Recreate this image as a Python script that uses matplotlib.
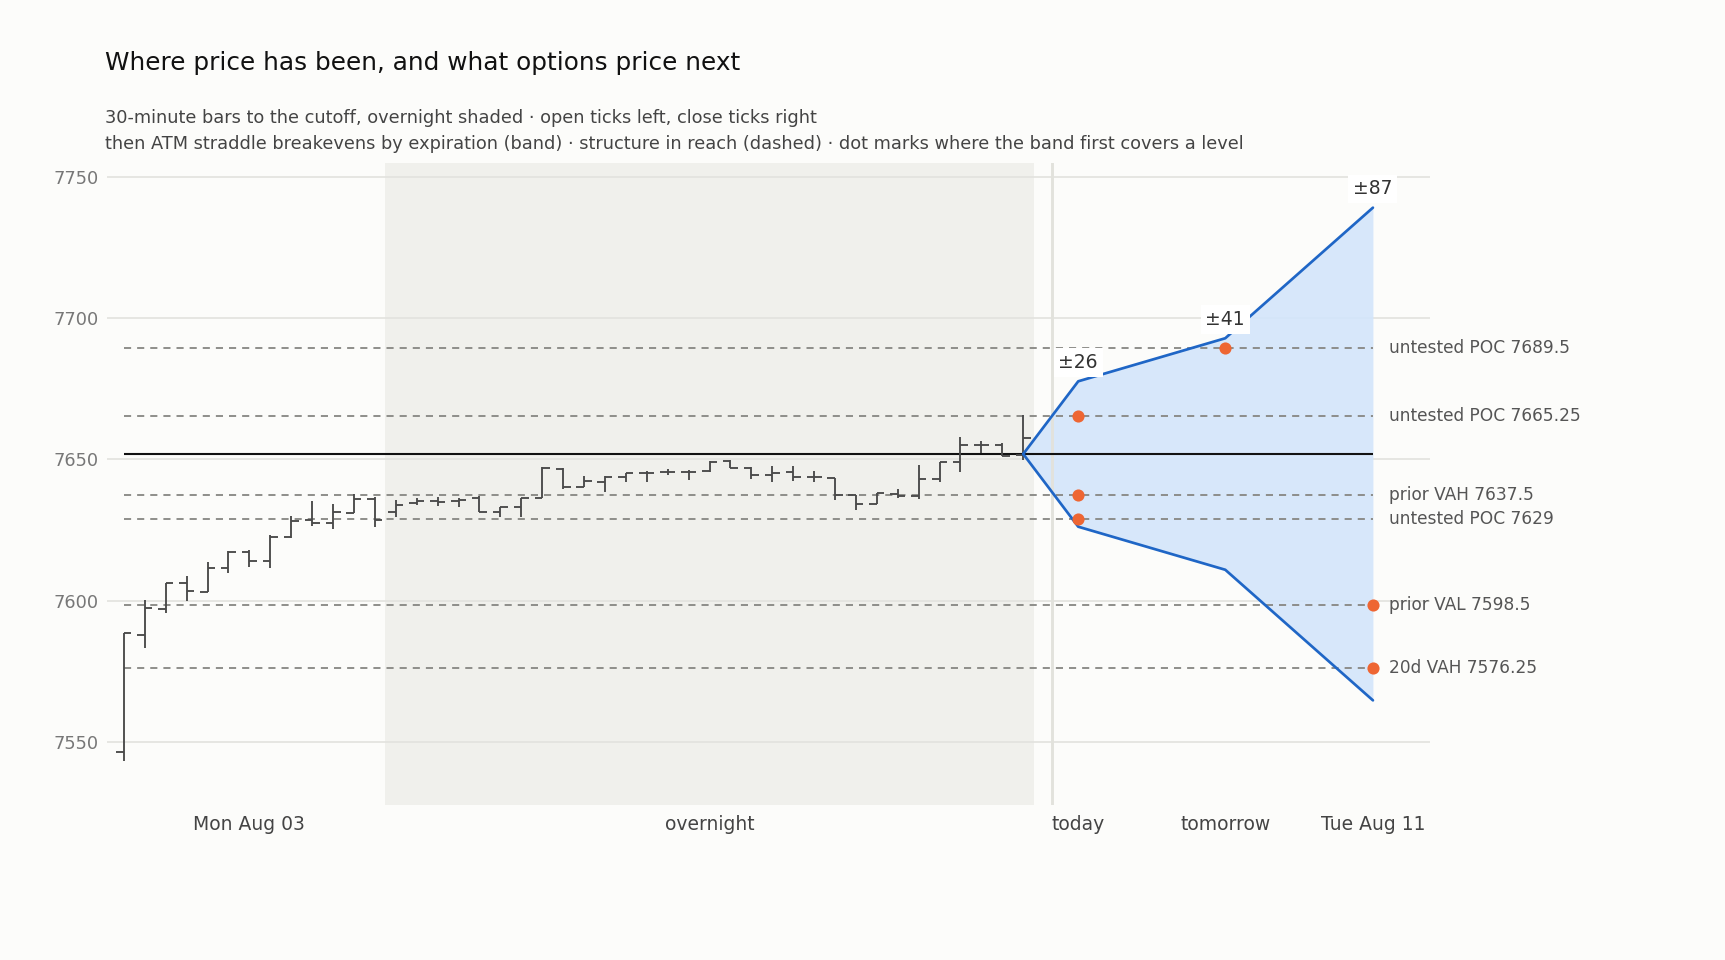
import matplotlib
matplotlib.use("Agg")
import matplotlib.pyplot as plt
import numpy as np

# ---- data -------------------------------------------------------------
opens  = [7546.5, 7587.8, 7597.0, 7606.3, 7603.0, 7611.4, 7617.3, 7614.0, 7622.6, 7628.5,
          7627.5, 7631.1, 7635.8, 7631.4, 7634.6, 7635.2, 7635.4, 7636.2, 7631.4, 7633.0,
          7636.4, 7646.7, 7640.1, 7642.1, 7643.9, 7645.0, 7645.6, 7645.4, 7645.9, 7649.4,
          7647.0, 7644.6, 7645.6, 7643.9, 7643.5, 7637.4, 7634.2, 7637.8, 7637.0, 7643.0,
          7648.9, 7655.1, 7655.1, 7651.5]
highs  = [7588.4, 7600.2, 7606.3, 7608.8, 7613.7, 7617.6, 7617.9, 7623.1, 7629.8, 7635.2,
          7634.1, 7637.7, 7636.8, 7635.6, 7636.2, 7636.8, 7636.2, 7637.1, 7633.0, 7636.4,
          7647.2, 7646.8, 7644.1, 7644.1, 7645.3, 7645.9, 7646.5, 7646.2, 7649.4, 7649.8,
          7647.4, 7647.6, 7647.6, 7646.0, 7643.5, 7637.4, 7638.0, 7639.4, 7648.0, 7648.9,
          7657.8, 7656.6, 7655.7, 7665.7]
lows   = [7543.0, 7583.1, 7595.5, 7599.9, 7603.0, 7609.6, 7612.0, 7611.4, 7622.0, 7626.5,
          7625.2, 7631.1, 7625.9, 7629.5, 7633.8, 7633.5, 7633.0, 7631.4, 7629.5, 7629.5,
          7636.4, 7639.4, 7640.1, 7638.5, 7642.1, 7642.1, 7644.4, 7642.7, 7645.6, 7646.8,
          7642.9, 7642.1, 7642.4, 7642.1, 7635.6, 7632.1, 7634.2, 7636.2, 7635.8, 7641.9,
          7645.4, 7652.1, 7651.2, 7649.8]
closes = [7588.4, 7597.2, 7606.3, 7603.4, 7611.4, 7617.3, 7614.0, 7622.6, 7628.2, 7627.5,
          7631.3, 7635.8, 7628.5, 7633.8, 7635.3, 7635.0, 7635.6, 7631.4, 7633.0, 7636.4,
          7646.8, 7640.1, 7642.4, 7643.9, 7645.0, 7645.3, 7645.6, 7645.6, 7649.2, 7647.0,
          7644.4, 7645.2, 7643.9, 7643.6, 7637.4, 7634.2, 7638.0, 7637.0, 7643.0, 7648.9,
          7655.1, 7655.1, 7651.2, 7657.6]

rth_bars = 13                 # Monday day-session bars; the rest is overnight
spot = 7651.9                 # price at the cutoff
expiries = ["today", "tomorrow", "Tue Aug 11"]
expiry_pos = [45.63, 52.66, 59.72]   # x position of each expiration (bar units)
separator_pos = 44.36
straddles = [25.75, 41.0, 87.25]

level_names  = ["untested POC", "untested POC", "prior VAH", "untested POC", "prior VAL", "20d VAH"]
level_values = [7689.5, 7665.25, 7637.5, 7629.0, 7598.5, 7576.25]

session_labels = ["Mon Aug 03", "overnight"]
yticks = [7550, 7600, 7650, 7700, 7750]

# ---- style ------------------------------------------------------------
BG = "#fcfcfa"
plt.rcParams["font.family"] = ["DejaVu Sans"]

fig = plt.figure(figsize=(11.5, 6.4), dpi=150, facecolor=BG)
ax = fig.add_axes([0.062, 0.1615, 0.767, 0.6685], facecolor=BG)

n = len(opens)
x = np.arange(n)

# overnight shading
ax.axvspan(rth_bars - 0.5, n - 0.5, color="#f0f0ec", zorder=0, lw=0)

# grid
for yt in yticks:
    ax.axhline(yt, color="#e2e2de", lw=0.8, zorder=0.5)

# structure levels (dashed)
ax.hlines(level_values, 0, expiry_pos[-1], colors="#8a8a86", lw=0.9,
          linestyles=(0, (3.8, 3.2)), zorder=3)

# spot line
ax.hlines(spot, 0, expiry_pos[-1], colors="#111111", lw=1.0, zorder=3.5)

# OHLC bars
tw = 0.36
bar_col = "#4a4a4a"
ax.vlines(x, lows, highs, colors=bar_col, lw=0.9, zorder=4)
ax.hlines(opens, x - tw, x, colors=bar_col, lw=0.9, zorder=4)
ax.hlines(closes, x, x + tw, colors=bar_col, lw=0.9, zorder=4)

# straddle band
bx = [n - 1] + expiry_pos
upper = [spot] + [spot + s for s in straddles]
lower = [spot] + [spot - s for s in straddles]
ax.fill_between(bx, lower, upper, color="#d3e5fb", alpha=0.9, lw=0, zorder=1)
ax.axvline(separator_pos, color="#e2e2dc", lw=1.4, zorder=2)
ax.plot(bx, upper, color="#1f66c6", lw=1.3, zorder=5, solid_capstyle="round")
ax.plot(bx, lower, color="#1f66c6", lw=1.3, zorder=5, solid_capstyle="round")

for xp, up, s in zip(expiry_pos, upper[1:], straddles):
    ax.annotate(f"\u00b1{s:.0f}", (xp, up), xytext=(0, 4.5), textcoords="offset points",
                ha="center", va="bottom", fontsize=9, color="#333333", zorder=6,
                bbox=dict(boxstyle="square,pad=0.25", fc="white", ec="none"))

# where the band first covers each level
for name, lv in zip(level_names, level_values):
    for xp, up, lo in zip(expiry_pos, upper[1:], lower[1:]):
        if lo <= lv <= up:
            ax.scatter([xp], [lv], s=34, color="#ee6633", zorder=7, lw=0)
            break
    ax.annotate(f"{name} {lv:g}", (expiry_pos[-1], lv), xytext=(7.5, 0),
                textcoords="offset points", ha="left", va="center",
                fontsize=8.2, color="#555555", annotation_clip=False)

# axes
ax.set_xlim(-0.81, 62.45)
ax.set_ylim(7527.6, 7754.9)
ax.set_yticks(yticks)
ax.set_yticklabels([str(v) for v in yticks])
ax.set_xticks([(rth_bars - 1) / 2, (rth_bars + n - 1) / 2] + expiry_pos)
ax.set_xticklabels(session_labels + expiries)
ax.tick_params(axis="both", length=0)
ax.tick_params(axis="y", colors="#777777", pad=4, labelsize=8.5)
ax.tick_params(axis="x", colors="#444444", pad=5, labelsize=9)
for sp in ax.spines.values():
    sp.set_visible(False)

fig.text(0.061, 0.927, "Where price has been, and what options price next",
         fontsize=11.9, color="#111111", va="baseline", ha="left")
fig.text(0.061, 0.8716, "30-minute bars to the cutoff, overnight shaded \u00b7 open ticks left, close ticks right",
         fontsize=8.55, color="#444444", va="baseline", ha="left")
fig.text(0.061, 0.8445, "then ATM straddle breakevens by expiration (band) \u00b7 structure in reach (dashed) \u00b7 dot marks where the band first covers a level",
         fontsize=8.55, color="#444444", va="baseline", ha="left")

fig.savefig("out.png", dpi=150, facecolor=BG)
